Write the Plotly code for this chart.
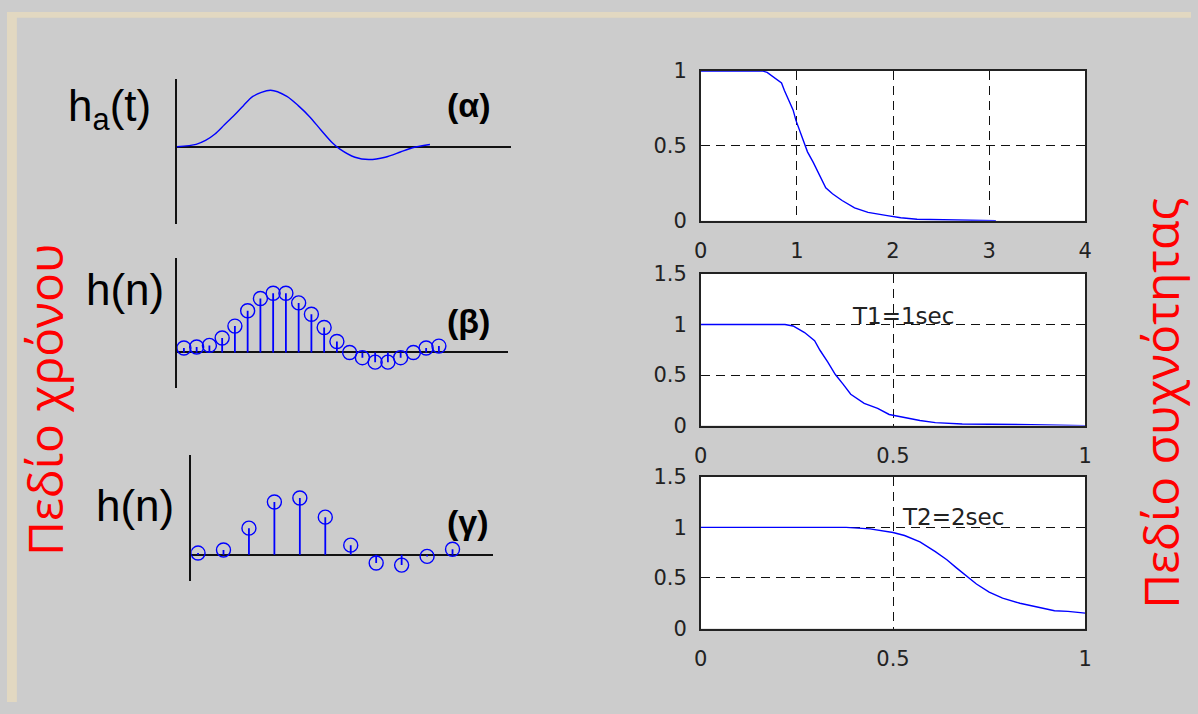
import plotly.graph_objects as go

W, H = 1198, 714

# ---------------- data ----------------
# (α) continuous impulse response h_a(t)  (t in sample units of (β))
ha_t = [0, 1.50, 2.24, 2.98, 3.72, 4.47, 5.21, 5.95, 7.34, 8.62, 9.51, 10.40,
        11.29, 12.18, 12.78, 13.96, 15.05, 16.33, 17.52, 18.41, 19.84]
ha_v = [0, 0.043, 0.11, 0.22, 0.38, 0.54, 0.71, 0.87, 0.975, 0.87, 0.71, 0.52,
        0.29, 0.07, -0.04, -0.18, -0.22, -0.18, -0.09, -0.02, 0.04]

# (β) sampled with T1 = 1 sec
hb_n = list(range(21))
hb_v = [0.077, 0.093, 0.122, 0.25, 0.455, 0.72, 0.93, 1.02, 1.02, 0.855, 0.66,
        0.43, 0.19, 0.0, -0.09, -0.167, -0.167, -0.09, 0.0, 0.077, 0.11]

# (γ) sampled with T2 = 2 sec
hg_n = list(range(11))
hg_v = [0.03, 0.083, 0.46, 0.91, 0.98, 0.65, 0.167, -0.14, -0.177, -0.027, 0.095]

# frequency responses
f1 = [0, 0.64, 0.69, 0.76, 0.84, 0.87, 0.92, 0.96, 0.99, 1.03, 1.08, 1.11, 1.17,
      1.23, 1.30, 1.37, 1.47, 1.60, 1.74, 1.94, 2.08, 2.25, 2.79, 3.07]
m1 = [1, 1, 0.99, 0.96, 0.92, 0.87, 0.80, 0.74, 0.67, 0.60, 0.51, 0.46, 0.39,
      0.31, 0.22, 0.18, 0.135, 0.086, 0.056, 0.034, 0.02, 0.01, 0.004, 0.0]

f2 = [0, 0.219, 0.24, 0.27, 0.296, 0.31, 0.33, 0.35, 0.37, 0.39, 0.425, 0.46,
      0.49, 0.53, 0.57, 0.61, 0.68, 0.86, 1.0]
m2 = [1, 1, 0.985, 0.92, 0.84, 0.745, 0.63, 0.505, 0.41, 0.31, 0.22, 0.17,
      0.11, 0.08, 0.05, 0.03, 0.016, 0.01, 0.0]

f3 = [0, 0.378, 0.44, 0.50, 0.53, 0.57, 0.61, 0.64, 0.665, 0.69, 0.717, 0.75,
      0.785, 0.83, 0.87, 0.92, 0.955, 1.0]
m3 = [1, 1, 0.985, 0.95, 0.92, 0.856, 0.76, 0.68, 0.60, 0.52, 0.44, 0.36,
      0.30, 0.25, 0.22, 0.176, 0.17, 0.153]

x1_ticks = [0, 1, 2, 3, 4]
x2_ticks = [0, 0.5, 1]
y1_ticks = [0, 0.5, 1]
y2_ticks = [0, 0.5, 1, 1.5]

time_labels = ["h<sub>a</sub>(t)", "h(n)", "h(n)"]
case_labels = ["(α)", "(β)", "(γ)"]
t_labels = ["T1=1sec", "T2=2sec"]
side_labels = ["Πεδίο χρόνου", "Πεδίο συχνότητας"]

BLUE = "#0000ff"
GRAY = "#cccccc"
BEIGE = "#e2d8c1"


def dx(a, b):
    return [a / W, b / W]


def dy(top, bottom):
    return [1 - bottom / H, 1 - top / H]


fig = go.Figure()

# ---- (α) continuous curve
fig.add_trace(go.Scatter(x=ha_t, y=ha_v, mode="lines",
                         line=dict(color=BLUE, width=1.4, shape="spline", smoothing=0.8),
                         xaxis="x", yaxis="y", showlegend=False))


def stem(n, v, xa, ya):
    sx, sy = [], []
    for a, b in zip(n, v):
        sx += [a, a, None]
        sy += [0, b, None]
    fig.add_trace(go.Scatter(x=sx, y=sy, mode="lines", line=dict(color=BLUE, width=1.8),
                             xaxis=xa, yaxis=ya, showlegend=False))
    fig.add_trace(go.Scatter(x=n, y=v, mode="markers",
                             marker=dict(symbol="circle-open", size=14, color=BLUE,
                                         line=dict(width=1.4, color=BLUE)),
                             xaxis=xa, yaxis=ya, showlegend=False))


stem(hb_n, hb_v, "x2", "y2")
stem(hg_n, hg_v, "x3", "y3")

for f, m, k in [(f1, m1, 4), (f2, m2, 5), (f3, m3, 6)]:
    fig.add_trace(go.Scatter(x=f, y=m, mode="lines", line=dict(color=BLUE, width=1.4),
                             xaxis=f"x{k}", yaxis=f"y{k}", showlegend=False))

layout = dict(
    width=W, height=H, margin=dict(l=0, r=0, t=0, b=0),
    paper_bgcolor=GRAY, plot_bgcolor="rgba(0,0,0,0)",
    showlegend=False,
)

# time-domain axes: (x-domain px, y-domain px, x px of origin, px per x unit, y px of zero)
left_specs = [
    ((172, 510), (69, 219), 172.0, 12.9, 139.5),
    ((171.7, 507), (255, 389), 179.0, 12.9, 352.3),
    ((186.4, 491.8), (458.3, 589.3), 193.3, 25.75, 561.7),
]
PXU = 60.0
for i, (xd, yd, x0, sx, y0) in enumerate(left_specs):
    k = "" if i == 0 else str(i + 1)
    layout[f"xaxis{k}"] = dict(domain=dx(*xd), range=[(xd[0] - x0) / sx, (xd[1] - x0) / sx],
                               showgrid=False, zeroline=False, showline=False, showticklabels=False,
                               ticks="", anchor=f"y{k}", fixedrange=True)
    layout[f"yaxis{k}"] = dict(domain=dy(*yd), range=[-(yd[1] - y0) / PXU, (y0 - yd[0]) / PXU],
                               showgrid=False, zeroline=True, zerolinecolor="#111111", zerolinewidth=2,
                               showline=True, linecolor="#111111", linewidth=2, showticklabels=False,
                               ticks="", anchor=f"x{k}", fixedrange=True)

right_specs = [
    ((61, 216), [0, 4], x1_ticks, [0, 1], y1_ticks),
    ((271, 428), [0, 1], x2_ticks, [0, 1.5], y2_ticks),
    ((481, 638), [0, 1], x2_ticks, [0, 1.5], y2_ticks),
]
tickfont = dict(family="DejaVu Sans", size=21, color="#222222")
annfont = dict(family="DejaVu Sans", size=23, color="#222222")
shapes = []
for j, (yd, xr, xt, yr, yt) in enumerate(right_specs):
    k = str(j + 4)
    common = dict(showgrid=True, gridcolor="#111111", gridwidth=1.3, griddash="9px,6px",
                  zeroline=False, showline=True, mirror=True, linecolor="#222222", linewidth=1.5,
                  ticks="", tickfont=tickfont, fixedrange=True)
    layout[f"xaxis{k}"] = dict(domain=dx(702, 1091), range=xr, tickvals=xt, ticktext=[f"{v:g}" for v in xt],
                               anchor=f"y{k}", ticklabelstandoff=10, **common)
    layout[f"yaxis{k}"] = dict(domain=dy(*yd), range=yr, tickvals=yt, ticktext=[f"{v:g}" for v in yt],
                               anchor=f"x{k}", ticklabelstandoff=8, **common)
    shapes.append(dict(type="rect", xref=f"x{k} domain", yref=f"y{k} domain", x0=0, x1=1, y0=0, y1=1,
                       fillcolor="white", line=dict(width=0), layer="below"))

# beige textured border strips
shapes.append(dict(type="rect", xref="paper", yref="paper", x0=0, x1=10 / W, y0=0, y1=1,
                   fillcolor=BEIGE, line=dict(width=0), layer="below"))
shapes.append(dict(type="rect", xref="paper", yref="paper", x0=0, x1=1, y0=1 - 6 / H, y1=1,
                   fillcolor=BEIGE, line=dict(width=0), layer="below"))
layout["shapes"] = shapes

ann = []
lab_pos = [(60, 100), (78, 287), (88, 511)]
for txt, (px, py) in zip(time_labels, lab_pos):
    ann.append(dict(text=txt, xref="paper", yref="paper", x=px / W, y=1 - py / H, xanchor="left", yanchor="middle",
                    showarrow=False, font=dict(family="Liberation Sans", size=44, color="black")))
case_pos = [(443, 96), (443, 320), (443, 528)]
for txt, (px, py) in zip(case_labels, case_pos):
    ann.append(dict(text=f"<b>{txt}</b>", xref="paper", yref="paper", x=px / W, y=1 - py / H,
                    xanchor="left", yanchor="middle", showarrow=False,
                    font=dict(family="Liberation Sans", size=34, color="black")))
ann.append(dict(text=t_labels[0], xref="x5", yref="y5", x=0.388, y=1.085, xanchor="left", yanchor="middle",
                showarrow=False, font=annfont))
ann.append(dict(text=t_labels[1], xref="x6", yref="y6", x=0.518, y=1.10, xanchor="left", yanchor="middle",
                showarrow=False, font=annfont))
ann.append(dict(text=side_labels[0], xref="paper", yref="paper", x=38 / W, y=1 - 402 / H, textangle=-90,
                xanchor="center", yanchor="middle", showarrow=False,
                font=dict(family="Open Sans", size=48, color="#ff0000")))
ann.append(dict(text=side_labels[1], xref="paper", yref="paper", x=1167 / W, y=1 - 405 / H, textangle=-90,
                xanchor="center", yanchor="middle", showarrow=False,
                font=dict(family="Open Sans", size=48, color="#ff0000")))
layout["annotations"] = ann

fig.update_layout(**layout)
fig.write_html("out.html", config={"displayModeBar": False},
               post_script=("document.documentElement.style.margin='0';"
                            "document.body.style.margin='0';document.body.style.padding='0';"
                            "document.documentElement.style.overflow='hidden';"
                            "var d=document.getElementById('{plot_id}');"
                            "d.style.position='fixed';d.style.left='0px';d.style.top='0px';"))
